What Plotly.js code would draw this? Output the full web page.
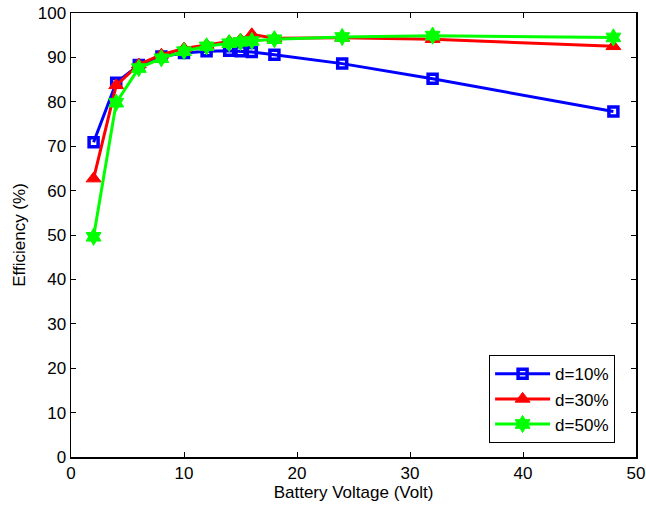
<!DOCTYPE html>
<html>
<head>
<meta charset="utf-8">
<script src="https://cdn.plot.ly/plotly-3.0.1.min.js"></script>
<style>html,body{margin:0;padding:0;background:#fff}#chart{width:646px;height:507px}</style>
</head>
<body>
<div id="chart"></div>
<script>
const voltage = [2, 4, 6, 8, 10, 12, 14, 15, 16, 18, 24, 32, 48];
const eff10 = [70.9, 84.3, 88.3, 90.2, 91.0, 91.4, 91.5, 91.4, 91.2, 90.6, 88.6, 85.2, 77.8];
const eff30 = [62.7, 83.7, 88.4, 90.6, 92.0, 92.8, 93.6, 94.0, 95.2, 94.3, 94.4, 94.1, 92.5];
const eff50 = [49.6, 79.8, 87.6, 89.8, 91.4, 92.5, 93.2, 93.5, 93.7, 94.1, 94.6, 94.9, 94.5];
const seriesNames = ['d=10%', 'd=30%', 'd=50%'];
const xTicks = [0, 10, 20, 30, 40, 50];
const yTicks = [0, 10, 20, 30, 40, 50, 60, 70, 80, 90, 100];

const font = 'Liberation Sans, Arial, Helvetica, sans-serif';

const traces = [
  {x: voltage, y: eff10, name: seriesNames[0], mode: 'lines+markers',
   line: {color: '#0000ff', width: 3},
   marker: {symbol: 'square-open', size: 9, color: '#0000ff', line: {width: 3.5, color: '#0000ff'}}},
  {x: voltage, y: eff30, name: seriesNames[1], mode: 'lines+markers',
   line: {color: '#ff0000', width: 3},
   marker: {symbol: 'triangle-up', size: 13, color: '#ff0000', line: {width: 1, color: '#ff0000'}}},
  {x: voltage, y: eff50, name: seriesNames[2], mode: 'lines+markers',
   line: {color: '#00ff00', width: 3},
   marker: {symbol: 'hexagram', size: 13, color: '#00ff00', line: {width: 1, color: '#00ff00'}}}
];

const axisCommon = {
  showgrid: false, zeroline: false, showline: true, linecolor: '#000', linewidth: 1.5,
  mirror: 'ticks', ticks: 'inside', ticklen: 5, tickwidth: 1, tickcolor: '#000',
  tickfont: {family: font, size: 17, color: '#000'}
};

const layout = {
  width: 646, height: 507,
  margin: {l: 71, r: 10, t: 13, b: 50},
  paper_bgcolor: '#fff', plot_bgcolor: '#fff',
  showlegend: true,
  xaxis: Object.assign({}, axisCommon, {
    range: [0, 50], tickvals: xTicks, ticktext: xTicks.map(String),
    title: {text: 'Battery Voltage (Volt)', font: {family: font, size: 17, color: '#000'}, standoff: 4}
  }),
  yaxis: Object.assign({}, axisCommon, {
    range: [0, 100], tickvals: yTicks, ticktext: yTicks.map(String),
    title: {text: 'Efficiency (%)', font: {family: font, size: 17, color: '#000'}, standoff: 8}
  }),
  legend: {
    x: 0.963, y: 0.031, xanchor: 'right', yanchor: 'bottom',
    bgcolor: '#fff', bordercolor: '#000', borderwidth: 1,
    font: {family: font, size: 17, color: '#000'},
    itemwidth: 55, tracegroupgap: 0
  }
};

Plotly.newPlot('chart', traces, layout, {displayModeBar: false, staticPlot: true});
</script>
</body>
</html>
